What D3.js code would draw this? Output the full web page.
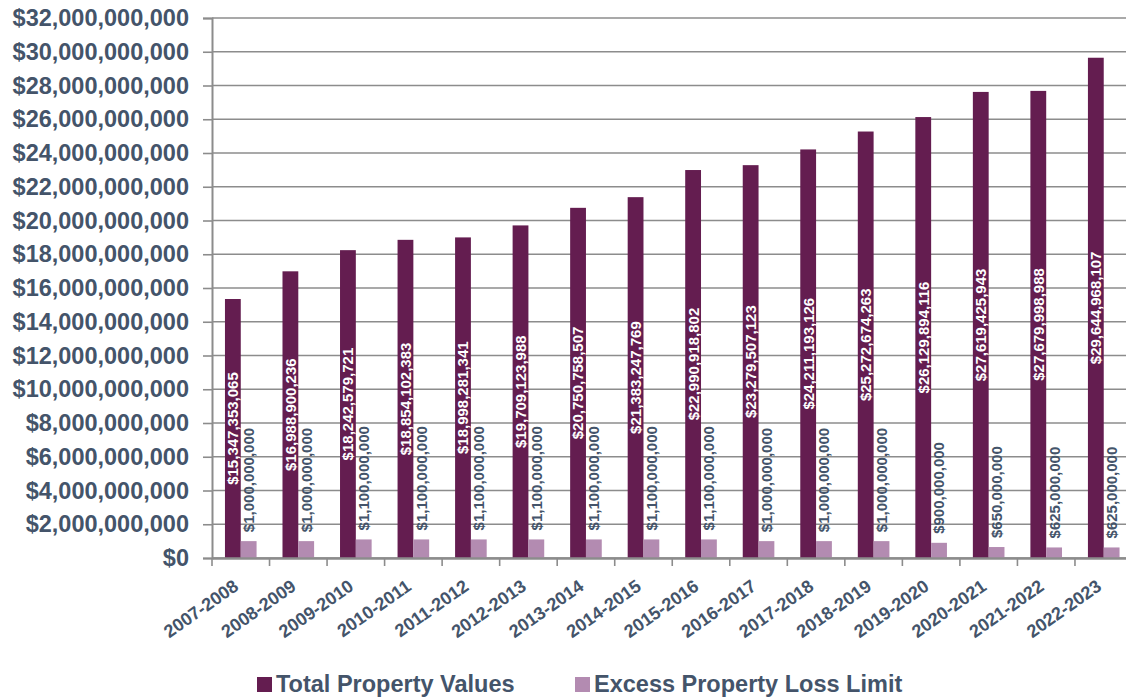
<!DOCTYPE html>
<html>
<head>
<meta charset="utf-8">
<script src="https://cdn.jsdelivr.net/npm/d3@7/dist/d3.min.js"></script>
<style>
  html, body { margin: 0; padding: 0; background: #ffffff; }
  svg { display: block; }
  text { font-family: "Liberation Sans", Arial, sans-serif; }
</style>
</head>
<body>
<svg id="chart" width="1126" height="700"></svg>
<script>
// Fiscal years
const years = [
  "2007-2008", "2008-2009", "2009-2010", "2010-2011", "2011-2012", "2012-2013",
  "2013-2014", "2014-2015", "2015-2016", "2016-2017", "2017-2018", "2018-2019",
  "2019-2020", "2020-2021", "2021-2022", "2022-2023"
];

// Total property values per year
const totalPropertyValues = [
  15347353065, 16988900236, 18242579721, 18854102383, 18998281341, 19709123988,
  20750758507, 21383247769, 22990918802, 23279507123, 24211193126, 25272674263,
  26129894116, 27619425943, 27679998988, 29644968107
];

// Excess property loss limit per year
const excessLossLimit = [
  1000000000, 1000000000, 1100000000, 1100000000, 1100000000, 1100000000,
  1100000000, 1100000000, 1100000000, 1000000000, 1000000000, 1000000000,
  900000000, 650000000, 625000000, 625000000
];

const seriesNames = ["Total Property Values", "Excess Property Loss Limit"];
const yTicks = d3.range(0, 32000000001, 2000000000);

const colors = ["#641d50", "#b38bb1"];
const textColor = "#44546a";
const gridColor = "#8c8c8c";

const svg = d3.select("#chart");
const margin = { left: 212, right: 1132.5, top: 18, bottom: 558 };

const x0 = d3.scaleBand().domain(years).range([margin.left, margin.right]).padding(0);
const x1 = d3.scaleBand().domain([0, 1]).range([0, x0.bandwidth()]).paddingInner(0).paddingOuter(0.82);
const y = d3.scaleLinear().domain([0, 32000000000]).range([margin.bottom, margin.top]);

const money = v => "$" + d3.format(",")(v);

// Horizontal gridlines
svg.append("g")
  .selectAll("line")
  .data(yTicks)
  .join("line")
  .attr("x1", margin.left)
  .attr("x2", margin.right)
  .attr("y1", d => y(d))
  .attr("y2", d => y(d))
  .attr("stroke", gridColor)
  .attr("stroke-width", 1.6);

// Y axis
const yAxis = svg.append("g")
  .attr("transform", `translate(${margin.left},0)`)
  .call(d3.axisLeft(y).tickValues(yTicks).tickFormat(money).tickSize(9).tickPadding(14));
yAxis.select(".domain").attr("stroke", gridColor).attr("stroke-width", 2);
yAxis.selectAll(".tick line").attr("stroke", gridColor).attr("stroke-width", 1.6);
yAxis.selectAll(".tick text")
  .attr("fill", textColor)
  .attr("font-size", "23.5px")
  .attr("font-weight", "bold")
  .attr("font-family", "'Liberation Sans', Arial, sans-serif");

// Bars
const rows = years.map((yr, i) => ({ year: yr, values: [totalPropertyValues[i], excessLossLimit[i]] }));

const groups = svg.append("g")
  .selectAll("g")
  .data(rows)
  .join("g")
  .attr("transform", d => `translate(${x0(d.year)},0)`);

groups.selectAll("rect")
  .data(d => d.values.map((v, k) => ({ k, v })))
  .join("rect")
  .attr("x", d => x1(d.k))
  .attr("width", x1.bandwidth())
  .attr("y", d => y(d.v))
  .attr("height", d => y(0) - y(d.v))
  .attr("fill", d => colors[d.k]);

// Value labels: white inside the total bars, grey above the limit bars
groups.append("text")
  .attr("transform", d => {
    const cx = x1(0) + x1.bandwidth() / 2;
    const cy = (y(d.values[0]) + y(0)) / 2;
    return `translate(${cx},${cy}) rotate(-90)`;
  })
  .attr("text-anchor", "middle")
  .attr("dy", "0.36em")
  .attr("fill", "#ffffff")
  .attr("font-size", "15px")
  .attr("font-weight", "bold")
  .text(d => money(d.values[0]));

groups.append("text")
  .attr("transform", d => {
    const cx = x1(1) + x1.bandwidth() / 2;
    const cy = y(d.values[1]) - 9;
    return `translate(${cx},${cy}) rotate(-90)`;
  })
  .attr("text-anchor", "start")
  .attr("dy", "0.36em")
  .attr("fill", textColor)
  .attr("font-size", "15px")
  .attr("font-weight", "bold")
  .text(d => money(d.values[1]));

// X axis
const xAxis = svg.append("g")
  .attr("transform", `translate(0,${margin.bottom})`)
  .call(d3.axisBottom(x0).tickSize(0).tickFormat(""));
xAxis.select(".domain").attr("stroke", gridColor).attr("stroke-width", 2.5);
xAxis.selectAll(".tick").remove();

// Category boundary ticks
svg.append("g")
  .selectAll("line")
  .data(years.map(d => x0(d)))
  .join("line")
  .attr("x1", d => d)
  .attr("x2", d => d)
  .attr("y1", margin.bottom)
  .attr("y2", margin.bottom + 8)
  .attr("stroke", gridColor)
  .attr("stroke-width", 1.6);

// Rotated category labels
svg.append("g")
  .selectAll("text")
  .data(years)
  .join("text")
  .attr("transform", d => `translate(${x0(d) + x0.bandwidth() / 2 - 1},${margin.bottom + 31}) rotate(-35)`)
  .attr("text-anchor", "end")
  .attr("fill", textColor)
  .attr("font-size", "18px")
  .attr("font-weight", "bold")
  .text(d => d);

// Legend
const legendItems = [
  { name: seriesNames[0], color: colors[0], x: 257 },
  { name: seriesNames[1], color: colors[1], x: 575 }
];
const legend = svg.append("g")
  .selectAll("g")
  .data(legendItems)
  .join("g")
  .attr("transform", d => `translate(${d.x},0)`);
legend.append("rect")
  .attr("x", 0)
  .attr("y", 677)
  .attr("width", 15)
  .attr("height", 15)
  .attr("fill", d => d.color);
legend.append("text")
  .attr("x", 19)
  .attr("y", 692)
  .attr("fill", textColor)
  .attr("font-size", "23.5px")
  .attr("font-weight", "bold")
  .text(d => d.name);
</script>
</body>
</html>
